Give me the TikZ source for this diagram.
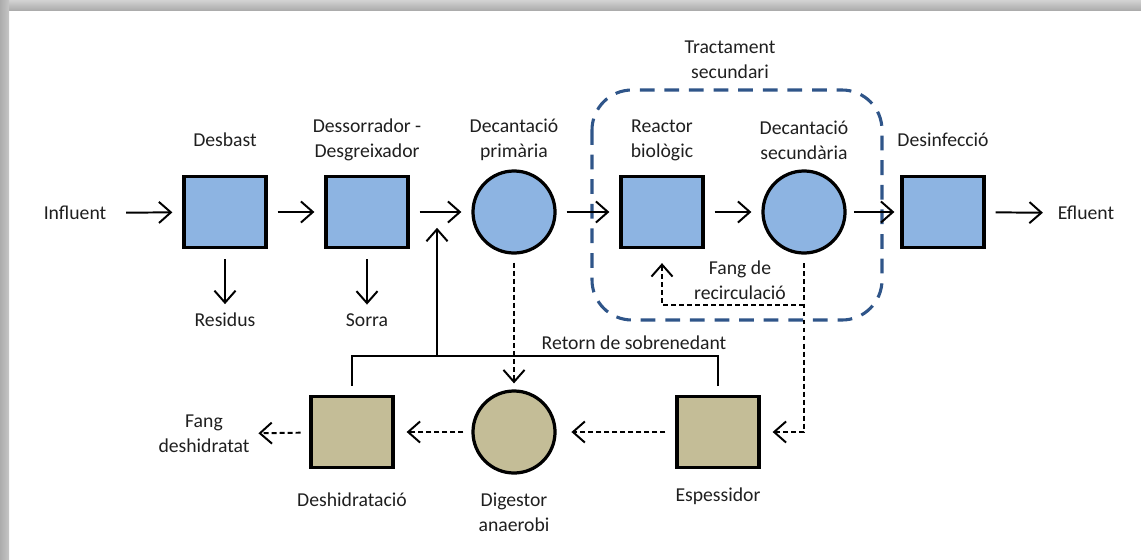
\documentclass[tikz,border=0pt]{standalone}
\usepackage{fontspec}
\setmainfont{Carlito}
\usetikzlibrary{arrows.meta,positioning}
\definecolor{waterfill}{RGB}{141,180,226}
\definecolor{sludgefill}{RGB}{196,189,151}
\definecolor{secblue}{RGB}{47,85,137}
\tikzset{
  unit/.style={draw,line width=2.3pt,minimum width=2.05cm,minimum height=1.775cm,inner sep=0pt},
  tank/.style={draw,circle,line width=2.3pt,minimum size=2.05cm,inner sep=0pt},
  water/.style={fill=waterfill},
  sludge/.style={fill=sludgefill},
  lbl/.style={align=center,font=\fontsize{14}{17.8}\selectfont,text=black!88},
  flow/.style={-{Straight Barb[length=8.5pt,width=15pt,line width=1.4pt]},line width=1.4pt,shorten <=0.25cm,shorten >=0.25cm},
  sludgeflow/.style={flow,dash pattern=on 3.5pt off 2.2pt},
}
\begin{document}
\begin{tikzpicture}[x=0.025cm,y=-0.025cm]
\useasboundingbox (0,0) rectangle (1141,559);
% page shadow
\shade[top color=gray!35,bottom color=gray!65] (0,0) rectangle (1141,10);
\shade[left color=gray!65,right color=gray!45] (0,0) rectangle (9,559);

% water line
\node[lbl] (influent) at (75,213) {Influent};
\node[unit,water] (desbast) at (225,212) {};
\node[unit,water] (sand) at (367,212) {};
\node[tank,water] (primary) at (514,212) {};
\node[unit,water] (reactor) at (662,212) {};
\node[tank,water] (secondary) at (804,212) {};
\node[unit,water] (desinf) at (943,212) {};
\node[lbl] (efluent) at (1086,213) {Efluent};

\node[lbl] at (225,140) {Desbast};
\node[lbl] at (367,140) {Dessorrador -\\Desgreixador};
\node[lbl] at (514,140) {Decantació\\primària};
\node[lbl] at (662,140) {Reactor\\biològic};
\node[lbl] at (804,140) {Decantació\\secundària};
\node[lbl] at (943,140) {Desinfecció};
\node[lbl] at (730,60) {Tractament\\secundari};

\node[lbl] (residus) at (225,320) {Residus};
\node[lbl] (sorra) at (367,320) {Sorra};

% sludge line
\node[unit,sludge] (thickener) at (718,432) {};
\node[tank,sludge] (digestor) at (514,432) {};
\node[unit,sludge] (dewater) at (352,432) {};
\node[lbl] (cake) at (204,434) {Fang\\deshidratat};

\node[lbl] at (718,496) {Espessidor};
\node[lbl] at (514,512) {Digestor\\anaerobi};
\node[lbl] at (352,500) {Deshidratació};
\node[lbl] at (740,280) {Fang de\\recirculació};
\node[lbl] at (634,343) {Retorn de sobrenedant};

\coordinate (split) at (804,305);
\coordinate (retJ) at (437,356);
\coordinate (mix) at (437,213);

% secondary treatment frame
\draw[secblue,line width=2.2pt,dash pattern=on 10.5pt off 7pt,rounded corners=1cm] (592,90) rectangle (882,320);

\draw[flow,shorten <=0.37cm] (influent) -- (desbast);
\draw[flow] (desbast) -- (sand);
\draw[flow] (sand) -- (primary);
\draw[flow] (primary) -- (reactor);
\draw[flow] (reactor) -- (secondary);
\draw[flow,shorten <=0.18cm,shorten >=0.15cm] (secondary) -- (desinf);
\draw[flow] (desinf) -- (efluent);
\draw[flow,shorten >=0.1cm] (desbast) -- (residus);
\draw[flow,shorten >=0.1cm] (sand) -- (sorra);

\draw[sludgeflow,shorten <=0.22cm,shorten >=0.3cm] (secondary) |- (thickener);
\draw[sludgeflow,shorten <=0pt,shorten >=0.35cm] (split) -| (reactor);
\draw[sludgeflow,shorten <=0.2cm,shorten >=0.15cm] (primary) -- (digestor);
\draw[sludgeflow,shorten >=0.37cm] (thickener) -- (digestor);
\draw[sludgeflow,shorten <=0.2cm,shorten >=0.3cm] (digestor) -- (dewater);
\draw[sludgeflow,shorten <=0.22cm,shorten >=0.1cm] (dewater) -- (cake);

\draw[line width=1.4pt,shorten <=0.22cm,shorten >=0.22cm] (thickener) -- (thickener |- retJ) -- (dewater |- retJ) -- (dewater);
\draw[flow,shorten <=0pt,shorten >=0.37cm] (retJ) -- (mix);
\end{tikzpicture}
\end{document}
